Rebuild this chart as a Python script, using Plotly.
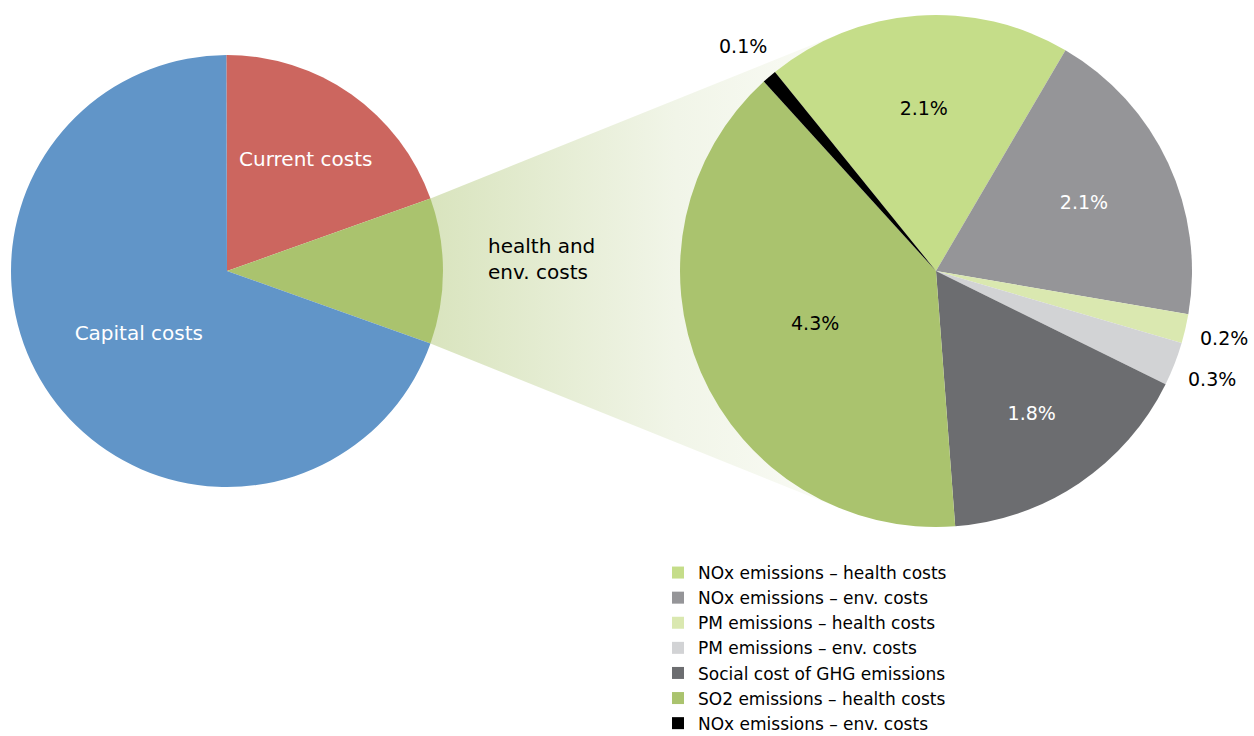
import math
import plotly.graph_objects as go

# overview pie
overview_labels = ['Current costs', 'health and env. costs', 'Capital costs']
overview_values = [19.6, 10.9, 69.5]
overview_text = ['Current costs', 'health and<br>env. costs', 'Capital costs']

# breakdown of health and env. costs (share of total, %)
detail_labels = [
    'NOx emissions – health costs',
    'NOx emissions – env. costs',
    'PM emissions – health costs',
    'PM emissions – env. costs',
    'Social cost of GHG emissions',
    'SO2 emissions – health costs',
    'NOx emissions – env. costs ',  # trailing space keeps it a separate slice
]
detail_values = [2.1, 2.1, 0.2, 0.3, 1.8, 4.3, 0.1]
detail_outside = [False, False, True, True, False, False, True]

overview_colors = ['#CC665F', '#AAC36E', '#6195C8']
detail_colors = ['#C5DD89', '#959598', '#DAE8B0', '#D2D3D5', '#6C6D70', '#AAC36E', '#000000']

W, H = 1254, 736
FONT = 'DejaVu Sans'

# pie placement in pixels
left_c, left_r = (227, 271), 216
right_c, right_r = (936, 271), 256


def domain(c, r):
    return dict(x=[(c[0] - r) / W, (c[0] + r) / W],
                y=[1 - (c[1] + r) / H, 1 - (c[1] - r) / H])


tot = sum(overview_values)
green_span = 360 * overview_values[1] / tot
left_rot = 90 - green_span / 2 - 360 * overview_values[0] / tot

dtot = sum(detail_values)
right_rot = 175.7 - 360 * sum(detail_values[:5]) / dtot


def pt(c, r, a):
    a = math.radians(a)
    return (c[0] + r * math.sin(a), c[1] - r * math.cos(a))


p_top = pt(left_c, left_r, 90 - green_span / 2)
p_bot = pt(left_c, left_r, 90 + green_span / 2)


def tangent(p, pick):
    vx, vy = p[0] - right_c[0], p[1] - right_c[1]
    d = math.hypot(vx, vy)
    al = math.acos(right_r / d)
    phi = math.atan2(vy, vx)
    cands = [(right_c[0] + right_r * math.cos(phi + s * al),
              right_c[1] + right_r * math.sin(phi + s * al)) for s in (1, -1)]
    return pick(cands, key=lambda q: q[1])


t_top = tangent(p_top, min)
t_bot = tangent(p_bot, max)

fig = go.Figure()

# gradient funnel linking the two pies
fig.add_trace(go.Scatter(
    x=[p_top[0], t_top[0], right_c[0], t_bot[0], p_bot[0], p_top[0]],
    y=[p_top[1], t_top[1], right_c[1], t_bot[1], p_bot[1], p_top[1]],
    mode='lines', line=dict(width=0), fill='toself',
    fillgradient=dict(type='horizontal', start=p_top[0], stop=840,
                      colorscale=[[0, 'rgb(217,228,190)'], [0.6, 'rgb(241,245,232)'],
                                  [1, 'rgb(250,251,246)']]),
    hoverinfo='skip', showlegend=False,
))

fig.add_trace(go.Pie(
    labels=overview_labels, values=overview_values, text=overview_text,
    texttemplate='%{text}', textposition=['inside', 'none', 'inside'],
    textfont=dict(family=FONT, size=20, color='white'),
    insidetextorientation='horizontal',
    marker=dict(colors=overview_colors, line=dict(width=0)),
    sort=False, direction='clockwise', rotation=left_rot,
    domain=domain(left_c, left_r), showlegend=False, hoverinfo='label',
))

fig.add_trace(go.Pie(
    labels=detail_labels, values=detail_values,
    texttemplate='%{value}%',
    textposition=['none' if o else 'inside' for o in detail_outside],
    textfont=dict(family=FONT, size=19,
                  color=['black', 'white', 'black', 'black', 'white', 'black', 'black']),
    insidetextorientation='horizontal',
    marker=dict(colors=detail_colors, line=dict(width=0)),
    sort=False, direction='clockwise', rotation=right_rot,
    domain=domain(right_c, right_r), hoverinfo='label+value',
))

# label of the highlighted slice, inside the funnel
fig.add_annotation(x=p_top[0] + 56, y=left_c[1] - 12, text=overview_text[1],
                   showarrow=False, xanchor='left', yanchor='middle', align='left',
                   font=dict(family=FONT, size=20, color='black'))

# small slices: labels set out from the rim along the slice middle
cum = 0
for v, o in zip(detail_values, detail_outside):
    mid = right_rot + 360 * (cum + v / 2) / dtot
    cum += v
    if o:
        lx, ly = pt(right_c, right_r + 40, mid)
        fig.add_annotation(x=lx, y=ly, text=f'{v}%', showarrow=False,
                           font=dict(family=FONT, size=19, color='black'))

fig.update_xaxes(range=[0, W], visible=False, fixedrange=True)
fig.update_yaxes(range=[H, 0], visible=False, fixedrange=True)

fig.update_layout(
    width=W, height=H,
    margin=dict(l=0, r=0, t=0, b=0, autoexpand=False),
    paper_bgcolor='white', plot_bgcolor='white',
    font=dict(family=FONT, size=17, color='black'),
    legend=dict(x=658 / W, y=1 - 555 / H, xanchor='left', yanchor='top',
                font=dict(family=FONT, size=17, color='black'),
                itemwidth=30, tracegroupgap=0),
)

fig.write_html('out.html', config={'displayModeBar': False},
               post_script="document.body.style.margin='0';")
